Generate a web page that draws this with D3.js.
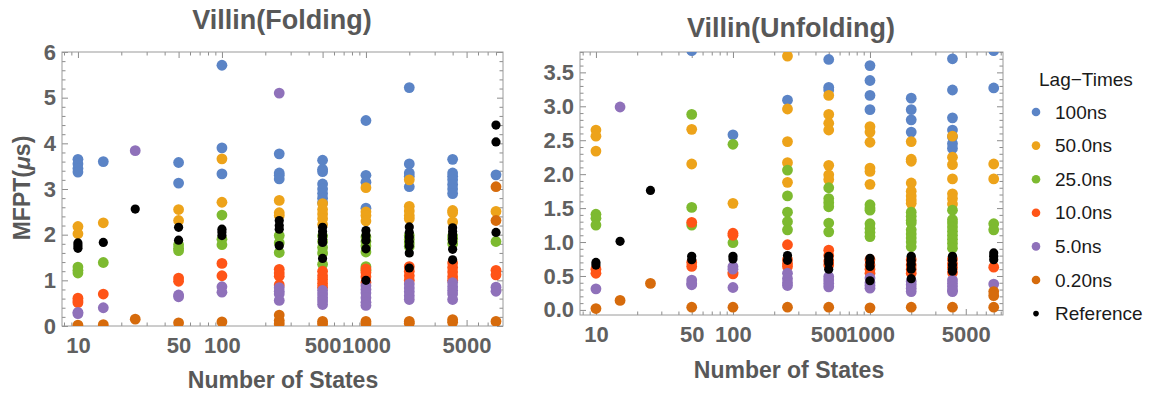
<!DOCTYPE html>
<html>
<head>
<meta charset="utf-8">
<script src="https://cdn.jsdelivr.net/npm/d3@7"></script>
<style>
  body { margin: 0; background: #fff; }
  svg { display: block; font-family: "Liberation Sans", Arial, Helvetica, sans-serif; }
  .axis path { display: none; }
  .axis line { stroke: #8c8c8c; }
  .axis text { fill: #606060; font-weight: bold; font-size: 22px; }
</style>
</head>
<body>
<script>
// number of states (x values shared by both panels)
const nStates = [10, 15, 25, 50, 100, 250, 500, 1000, 2000, 4000, 8000];
const lagTimes = ["100ns", "50.0ns", "25.0ns", "10.0ns", "5.0ns", "0.20ns", "Reference"];

// Villin folding MFPT (us), one list of values per number of states
const fold100 = [[3.65,3.55,3.45,3.37],[3.60],[],[3.58,3.13],[5.71,3.90,3.33],[3.77,3.35,3.30,3.22],[3.63,3.43,3.38,3.11,3.00,2.90,2.80,2.70],[4.50,3.30,3.15,2.58],[5.22,3.55,3.35,3.28,3.05],[3.65,3.35,3.28,3.20,3.10,3.00,2.90],[3.31]];
const fold50 = [[2.18,2.02],[2.26],[],[2.55,2.31],[3.66,2.71],[2.75,2.48,2.42],[2.68,2.55,2.45,2.35,2.22],[3.03,2.50,2.42,2.30],[3.20,2.62,2.52,2.42,2.35],[2.53,2.48,2.28],[2.51]];
const fold25 = [[1.29,1.22,1.16],[1.39],[],[1.78,1.70,1.65],[2.43,1.90,1.78],[1.98,1.82,1.61],[1.97,1.85,1.72,1.60,1.35],[1.95,1.85,1.75,1.62,1.30,1.22],[1.98,1.90,1.82,1.74],[1.97,1.90,1.80],[1.85]];
const fold10 = [[0.61,0.55,0.51],[0.70],[],[1.05,0.98],[1.37,1.10],[1.24,1.16,1.09,0.90],[1.20,1.10,1.02,0.93,0.85],[1.25,1.17,1.08,0.95],[1.30,1.20,1.10,1.00],[1.38,1.28,1.18,1.08,1.00],[1.22,1.12]];
const fold5 = [[0.30,0.27],[0.40],[3.84],[0.68,0.64],[0.86,0.74],[5.10,0.84,0.76,0.70,0.56],[0.78,0.70,0.62,0.55,0.47],[0.88,0.80,0.72,0.62,0.52,0.45],[0.92,0.83,0.75,0.66,0.58],[0.95,0.86,0.78,0.70,0.58],[0.85,0.76]];
const fold02 = [[0.02],[0.03],[0.15],[0.07],[0.09],[0.24,0.12,0.05],[0.10,0.05],[0.10,0.05],[0.10,0.06],[0.14,0.08],[3.05,2.31,0.10]];
const foldRef = [[1.82,1.76,1.70],[1.83],[2.56],[2.16,1.88],[2.12,2.06,1.98],[2.31,2.20,2.12,1.76],[2.16,2.07,1.98,1.90,1.83,1.48],[2.09,1.98,1.87,1.69,1.00],[2.17,2.05,1.95,1.85,1.75,1.60,1.27],[2.15,2.07,2.00,1.92,1.85,1.68,1.45],[4.40,4.03,2.05]];

// Villin unfolding MFPT (us)
const unf100 = [[],[],[],[3.82],[2.58],[3.09],[3.69,3.28,3.24],[3.60,3.38,3.16,2.95],[3.12,2.95,2.80,2.62],[3.70,3.24,2.83,2.65,2.55,2.45,2.38],[3.82,3.27]];
const unf50 = [[2.65,2.56,2.34],[],[],[2.66,2.15],[1.57],[3.74,2.96,2.48,2.17,1.88],[3.16,2.88,2.75,2.65,2.13,1.99,1.92],[2.70,2.62,2.47,2.09,2.04,1.85],[2.48,2.22,2.19,1.87,1.75,1.68,1.62,1.57],[2.56,2.25,2.14,1.93,1.71,1.64,1.56],[2.15,1.93]];
const unf25 = [[1.41,1.35,1.25],[],[],[2.88,1.51,1.25],[2.44,0.99],[2.06,1.68,1.44,1.30,1.18],[1.80,1.64,1.58,1.52,1.28,1.15],[1.55,1.50,1.47,1.27,1.20,1.14,1.08],[1.44,1.38,1.32,1.28,1.18,1.12,1.06,1.00,0.93],[1.47,1.33,1.28,1.22,1.16,1.10,1.04,0.98,0.91],[1.27,1.18]];
const unf10 = [[0.60,0.54],[],[],[1.29,0.70,0.64],[1.13,1.10,0.55,0.53],[0.96,0.74,0.68,0.64],[0.88,0.80,0.72,0.66],[0.74,0.66,0.60,0.54],[0.74,0.66,0.60,0.54],[0.75,0.68,0.62,0.55],[0.63]];
const unf5 = [[0.31],[2.99],[],[0.44,0.39,0.37],[0.64,0.60,0.33],[0.54,0.46,0.40,0.36],[0.49,0.44,0.39,0.34],[0.47,0.40,0.36,0.32],[0.42,0.37,0.32,0.27],[0.44,0.39,0.34,0.29,0.27],[0.38]];
const unf02 = [[0.02],[0.14],[0.39],[0.04],[0.04],[0.04],[0.04],[0.03],[0.04],[0.04],[0.27,0.21,0.04]];
const unfRef = [[0.70,0.66],[1.01],[1.76],[0.79,0.74],[0.79,0.75],[0.80,0.73],[0.79,0.74,0.69,0.60],[0.76,0.70,0.64,0.43],[0.79,0.73,0.67,0.60,0.46],[0.79,0.73,0.66,0.60,0.57],[0.84,0.79,0.74]];

// tick labels
const xTickVals = [10, 50, 100, 500, 1000, 5000];
const foldYTicks = [0, 1, 2, 3, 4, 5, 6];
const unfYTicks = [0.0, 0.5, 1.0, 1.5, 2.0, 2.5, 3.0, 3.5];

const colors = ["#5b84c6", "#eda31a", "#7dba30", "#ff5417", "#8f71ba", "#d66b0c", "#000000"];

const svg = d3.select("body").append("svg")
    .attr("width", 1155)
    .attr("height", 396);

function drawPanel(p) {
    let x = d3.scaleLog().domain(p.xDomain).range([p.left, p.right]);
    let y = d3.scaleLinear().domain(p.yDomain).range([p.bottom, p.top]);
    let g = svg.append("g");

    // minor ticks
    let minorX = x.ticks().filter(function(t) { return xTickVals.indexOf(t) < 0; });
    let minorY = p.minorY.filter(function(t) { return p.yTicks.indexOf(t) < 0; });

    let addAxis = function(axis, tr) {
        g.append("g").attr("class", "axis").attr("transform", tr).call(axis);
    };
    addAxis(d3.axisBottom(x).tickValues(minorX).tickFormat("").tickSize(-3.5), "translate(0," + p.bottom + ")");
    addAxis(d3.axisTop(x).tickValues(minorX).tickFormat("").tickSize(-3.5), "translate(0," + p.top + ")");
    addAxis(d3.axisLeft(y).tickValues(minorY).tickFormat("").tickSize(-3.5), "translate(" + p.left + ",0)");
    addAxis(d3.axisRight(y).tickValues(minorY).tickFormat("").tickSize(-3.5), "translate(" + p.right + ",0)");

    addAxis(d3.axisBottom(x).tickValues(xTickVals).tickFormat(d3.format("d")).tickSize(-6).tickPadding(11), "translate(0," + p.bottom + ")");
    addAxis(d3.axisTop(x).tickValues(xTickVals).tickFormat("").tickSize(-6), "translate(0," + p.top + ")");
    addAxis(d3.axisLeft(y).tickValues(p.yTicks).tickFormat(d3.format(p.yFormat)).tickSize(-6).tickPadding(6), "translate(" + p.left + ",0)");
    addAxis(d3.axisRight(y).tickValues(p.yTicks).tickFormat("").tickSize(-6), "translate(" + p.right + ",0)");

    // frame
    g.append("rect")
        .attr("x", p.left).attr("y", p.top)
        .attr("width", p.right - p.left).attr("height", p.bottom - p.top)
        .attr("fill", "none").attr("stroke", "#9a9a9a").attr("stroke-width", 1);

    // clip to frame
    svg.append("clipPath").attr("id", p.id + "-clip")
        .append("rect")
        .attr("x", p.left).attr("y", p.top)
        .attr("width", p.right - p.left).attr("height", p.bottom - p.top);

    let points = [];
    p.series.forEach(function(s, si) {
        s.forEach(function(vals, xi) {
            vals.forEach(function(v) { points.push({ n: nStates[xi], v: v, s: si }); });
        });
    });

    g.append("g").attr("clip-path", "url(#" + p.id + "-clip)")
        .selectAll("circle")
        .data(points).enter()
        .append("circle")
        .attr("cx", function(d) { return x(d.n); })
        .attr("cy", function(d) { return y(d.v); })
        .attr("r", function(d) { return d.s === 6 ? 4.6 : 5.4; })
        .attr("fill", function(d) { return colors[d.s]; });

    // titles
    g.append("text")
        .text(p.title)
        .attr("x", p.titleX).attr("y", p.titleY)
        .attr("text-anchor", "middle")
        .style("font-size", "27px").style("font-weight", "bold")
        .style("fill", "#585858");

    g.append("text")
        .text("Number of States")
        .attr("x", p.xLabelX).attr("y", p.xLabelY)
        .attr("text-anchor", "middle")
        .style("font-size", "23px").style("font-weight", "bold")
        .style("fill", "#585858");
}

drawPanel({
    id: "fold", title: "Villin(Folding)",
    left: 62, right: 503, top: 52, bottom: 326,
    xDomain: [7.75, 8950], yDomain: [0, 6],
    yTicks: foldYTicks, minorY: d3.range(0, 6.001, 0.2).map(function(v) { return +v.toFixed(1); }),
    yFormat: "d",
    series: [fold100, fold50, fold25, fold10, fold5, fold02, foldRef],
    titleX: 282, titleY: 29, xLabelX: 283, xLabelY: 388
});

drawPanel({
    id: "unf", title: "Villin(Unfolding)",
    left: 580, right: 1003, top: 52, bottom: 315,
    xDomain: [7.65, 9350], yDomain: [-0.075, 3.8],
    yTicks: unfYTicks, minorY: d3.range(0, 3.801, 0.1).map(function(v) { return +v.toFixed(1); }),
    yFormat: ".1f",
    series: [unf100, unf50, unf25, unf10, unf5, unf02, unfRef],
    titleX: 791, titleY: 37, xLabelX: 789, xLabelY: 378
});

// y axis label
let yLab = svg.append("text")
    .attr("transform", "translate(30,188) rotate(-90)")
    .attr("text-anchor", "middle")
    .style("font-size", "23px").style("font-weight", "bold")
    .style("fill", "#585858");
yLab.append("tspan").text("MFPT(");
yLab.append("tspan").text("μ").style("font-style", "italic");
yLab.append("tspan").text("s)");

// legend
svg.append("text")
    .text("Lag\u2212Times")
    .attr("x", 1039).attr("y", 86)
    .style("font-size", "19px")
    .style("fill", "#1a1a1a");

svg.selectAll("legdots")
    .data(lagTimes).enter()
    .append("circle")
    .attr("cx", 1036)
    .attr("cy", function(d, i) { return 112 + i * 33.6; })
    .attr("r", function(d, i) { return i === 6 ? 2.8 : 4.3; })
    .attr("fill", function(d, i) { return colors[i]; });

svg.selectAll("leglabels")
    .data(lagTimes).enter()
    .append("text")
    .attr("x", 1055)
    .attr("y", function(d, i) { return 112 + i * 33.6; })
    .attr("dy", "0.35em")
    .text(function(d) { return d; })
    .style("font-size", "19px")
    .style("fill", "#1a1a1a");
</script>
</body>
</html>
